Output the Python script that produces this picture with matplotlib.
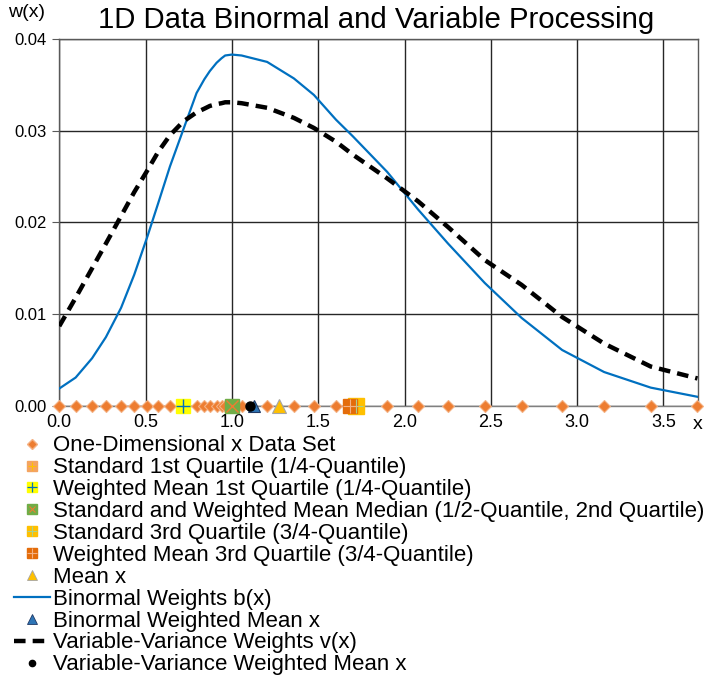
import matplotlib
matplotlib.use('Agg')
import matplotlib.pyplot as plt
from matplotlib.lines import Line2D
import numpy as np

plt.rcParams['font.family'] = ['Liberation Sans', 'DejaVu Sans']

# one-dimensional data set (values along x)
x_data = [0.00, 0.095, 0.19, 0.27, 0.358, 0.434, 0.511, 0.573, 0.641, 0.718,
          0.795, 0.84, 0.872, 0.911, 0.94, 0.961, 1.00, 1.056, 1.204, 1.359,
          1.475, 1.603, 1.70, 1.90, 2.079, 2.252, 2.465, 2.678, 2.913, 3.156,
          3.426, 3.697]

# binormal weights b(x) at the data points
b_vals = [0.0019, 0.0031, 0.0052, 0.0075, 0.0107, 0.0143, 0.0185, 0.0221, 0.0261, 0.0301,
          0.0341, 0.0356, 0.0365, 0.0374, 0.0379, 0.0382, 0.0383, 0.0382, 0.0375, 0.0357,
          0.0339, 0.0312, 0.0294, 0.0255, 0.0214, 0.0177, 0.0134, 0.0096, 0.0061, 0.0037,
          0.0020, 0.0010]

# variable-variance weights v(x) at the data points
v_vals = [0.0087, 0.0118, 0.0150, 0.0177, 0.0207, 0.0233, 0.0257, 0.0277, 0.0295, 0.0310,
          0.0320, 0.0324, 0.0327, 0.0329, 0.0330, 0.0331, 0.0331, 0.0330, 0.0325, 0.0314,
          0.0303, 0.0288, 0.0274, 0.0248, 0.0223, 0.0195, 0.0159, 0.0132, 0.0097, 0.0068,
          0.0043, 0.0030]

# summary statistics
std_q1 = 0.718
wm_q1 = 0.718
median = 1.00
std_q3 = 1.72
wm_q3 = 1.683
mean_x = 1.274
binormal_mean = 1.127
vv_mean = 1.104

x_ticks = [0.0, 0.5, 1.0, 1.5, 2.0, 2.5, 3.0, 3.5]
y_ticks = [0.00, 0.01, 0.02, 0.03, 0.04]

fig = plt.figure(figsize=(7.04, 6.79), dpi=100)
ax = fig.add_axes([0.0842, 0.4021, 0.9073, 0.5405])

ax.plot(x_data, b_vals, color='#0070C0', lw=1.6, zorder=3)
ax.plot(x_data, v_vals, color='black', lw=3.2, dashes=(2.6, 1.6), zorder=3)

ax.plot(x_data, np.zeros(len(x_data)), ls='none', marker='D', ms=6.5,
        mfc='#ED7D31', mec='#F4B183', mew=0.8, zorder=4, clip_on=False)

# quartile / median markers: square with a cross on top
ax.plot([std_q1], [0], ls='none', marker='s', ms=7, mfc='#F4A460', mec='#F4A460', zorder=5, clip_on=False)
ax.plot([wm_q1], [0], ls='none', marker='s', ms=10.5, mfc='#FFFF00', mec='#FFFF00', zorder=5, clip_on=False)
ax.plot([wm_q1], [0], ls='none', marker='+', ms=10, mec='#0070C0', mew=1.0, zorder=6, clip_on=False)
ax.plot([median], [0], ls='none', marker='s', ms=10.5, mfc='#70AD47', mec='#70AD47', zorder=5, clip_on=False)
ax.plot([median], [0], ls='none', marker='x', ms=8, mec='#ED7D31', mew=1.0, zorder=6, clip_on=False)
ax.plot([std_q3], [0], ls='none', marker='s', ms=11, mfc='#FFC000', mec='#FFC000', zorder=5, clip_on=False)
ax.plot([std_q3], [0], ls='none', marker='+', ms=10, mec='#A9D18E', mew=0.8, zorder=6, clip_on=False)
ax.plot([wm_q3], [0], ls='none', marker='s', ms=10.5, mfc='#E46C0A', mec='#E46C0A', zorder=5, clip_on=False)
ax.plot([wm_q3], [0], ls='none', marker='+', ms=10, mec='#F4B183', mew=0.8, zorder=6, clip_on=False)

ax.plot([mean_x], [0], ls='none', marker='^', ms=10, mfc='#FFC000', mec='#A5A5A5', mew=0.8, zorder=5, clip_on=False)
ax.plot([binormal_mean], [0], ls='none', marker='^', ms=9, mfc='#2E75B6', mec='#1F3864', mew=0.8, zorder=5, clip_on=False)
ax.plot([vv_mean], [0], ls='none', marker='o', ms=6.5, mfc='black', mec='black', zorder=6, clip_on=False)

ax.set_xlim(0, 3.7)
ax.set_ylim(0, 0.04)
ax.set_xticks(x_ticks)
ax.set_xticklabels([f'{t:.1f}' for t in x_ticks], fontsize=13)
ax.set_yticks(y_ticks)
ax.set_yticklabels([f'{t:.2f}' for t in y_ticks], fontsize=12)
ax.tick_params(axis='x', length=0, pad=6)
ax.tick_params(axis='y', length=5, color='#595959', pad=4)
ax.grid(True, color='#262626', lw=1.0, zorder=1)
for s in ax.spines.values():
    s.set_color('#595959')
    s.set_linewidth(1.0)
ax.spines['bottom'].set_color('#808080')

ax.text(1.0, -0.05, 'x', transform=ax.transAxes, ha='center', va='center', fontsize=14)
fig.text(0.012, 0.981, 'w(x)', ha='left', va='center', fontsize=14)
fig.text(0.534, 0.971, '1D Data Binormal and Variable Processing', ha='center', va='center', fontsize=21.2)

# legend handles
h_data = Line2D([], [], ls='none', marker='D', ms=5, mfc='#ED7D31', mec='#F4B183')
h_sq1 = (Line2D([], [], ls='none', marker='s', ms=7, mfc='#F4A460', mec='#F4A460'),
         Line2D([], [], ls='none', marker='+', ms=6, mec='#FFC000', mew=0.8))
h_wq1 = (Line2D([], [], ls='none', marker='s', ms=7, mfc='#FFFF00', mec='#FFFF00'),
         Line2D([], [], ls='none', marker='+', ms=7, mec='#0070C0', mew=0.9))
h_med = (Line2D([], [], ls='none', marker='s', ms=7, mfc='#70AD47', mec='#70AD47'),
         Line2D([], [], ls='none', marker='x', ms=5, mec='#ED7D31', mew=0.8))
h_sq3 = (Line2D([], [], ls='none', marker='s', ms=7, mfc='#FFC000', mec='#FFC000'),
         Line2D([], [], ls='none', marker='+', ms=7, mec='#A9D18E', mew=0.8))
h_wq3 = (Line2D([], [], ls='none', marker='s', ms=7, mfc='#E46C0A', mec='#E46C0A'),
         Line2D([], [], ls='none', marker='+', ms=7, mec='#F4B183', mew=0.8))
h_mean = Line2D([], [], ls='none', marker='^', ms=7, mfc='#FFC000', mec='#A5A5A5', mew=0.6)
h_b = Line2D([], [], color='#0070C0', lw=1.6)
h_bm = Line2D([], [], ls='none', marker='^', ms=7, mfc='#2E75B6', mec='#1F3864', mew=0.6)
h_v = Line2D([], [], color='black', lw=3.2, dashes=(2.6, 1.6))
h_vm = Line2D([], [], ls='none', marker='o', ms=4.5, mfc='black', mec='black')

labels = ['One-Dimensional x Data Set',
          'Standard 1st Quartile (1/4-Quantile)',
          'Weighted Mean 1st Quartile (1/4-Quantile)',
          'Standard and Weighted Mean Median (1/2-Quantile, 2nd Quartile)',
          'Standard 3rd Quartile (3/4-Quantile)',
          'Weighted Mean 3rd Quartile (3/4-Quantile)',
          'Mean x',
          'Binormal Weights b(x)',
          'Binormal Weighted Mean x',
          'Variable-Variance Weights v(x)',
          'Variable-Variance Weighted Mean x']
handles = [h_data, h_sq1, h_wq1, h_med, h_sq3, h_wq3, h_mean, h_b, h_bm, h_v, h_vm]

fig.legend(handles, labels, loc='upper left', bbox_to_anchor=(0.014, 1 - 431 / 679),
           frameon=False, fontsize=16, labelspacing=0.04, handlelength=1.6,
           handletextpad=0.15, borderaxespad=0.0, borderpad=0.2)

fig.savefig('out.png', dpi=100)
